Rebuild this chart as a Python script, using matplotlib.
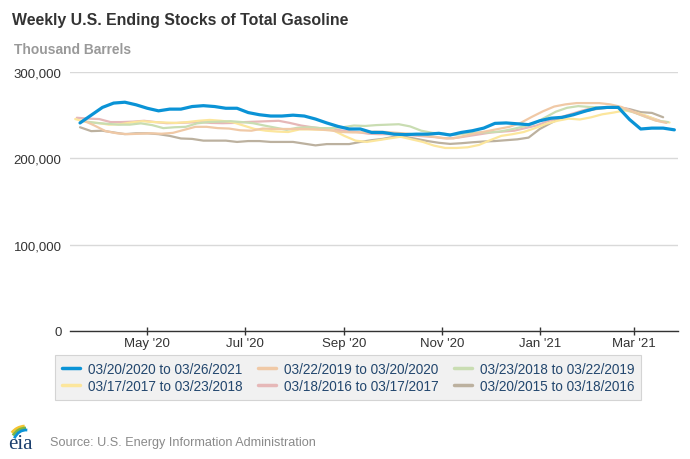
import matplotlib
matplotlib.use("Agg")
import matplotlib.pyplot as plt
import matplotlib.dates as mdates
from matplotlib.ticker import FuncFormatter
from matplotlib.patches import Arc
import datetime as dt

plt.rcParams['font.family'] = ['Liberation Sans', 'DejaVu Sans']

# ---------------- data (thousand barrels, weekly) ----------------
labels = ["03/20/2020 to 03/26/2021", "03/22/2019 to 03/20/2020", "03/23/2018 to 03/22/2019",
          "03/17/2017 to 03/23/2018", "03/18/2016 to 03/17/2017", "03/20/2015 to 03/18/2016"]
# first week of each series, shifted onto the 2020-21 axis
starts = ["2020-03-20", "2020-03-22", "2020-03-23", "2020-03-17", "2020-03-18", "2020-03-20"]

s2020 = [241, 250, 259, 264, 265, 262, 258, 255, 257, 257, 260, 261, 260, 258, 258, 253, 250.5,
         249, 249, 250, 249, 245.5, 241, 237, 234, 234, 230, 230, 228, 227.5, 228, 228, 229, 227,
         230, 232, 235, 240.5, 241, 240, 239, 243.5, 246.5, 247.5, 250.5, 254.5, 258, 259, 259,
         245, 234, 235, 235, 233]
s2019 = [244, 238, 231.5, 229, 228, 228.5, 229, 228.5, 229.5, 233, 236.5, 236.5, 235, 234.5,
         232.5, 232, 234.5, 234, 234, 234, 234, 233.5, 232.5, 230.5, 230, 230, 231, 230.5, 229.5,
         228.5, 227, 225.5, 223.5, 223, 226, 229, 231.5, 234, 236.5, 241, 248, 254.5, 260, 262.5,
         264, 264, 264, 262.5, 259.5, 254, 249, 244, 241]
s2018 = [243, 241, 240, 239, 239, 240.5, 238.5, 235, 236, 236.5, 240.5, 242, 242.5, 243, 242,
         240.7, 238, 235.5, 233, 235.5, 236, 235, 235, 236, 238, 237.5, 238.5, 239, 239.5, 237,
         232, 229.5, 228.5, 227, 229, 230, 230, 231, 233.5, 236.5, 240, 247, 254, 258.5, 260.5,
         259.5, 259, 259, 257.5, 253, 248, 243.5, 242]
s2017 = [245.5, 242, 241, 239, 239.5, 241.5, 243, 242, 241.5, 241, 242, 243.5, 244.5, 243.5, 242,
         238, 234, 232, 231, 230.5, 233.5, 233.5, 233, 232.5, 226, 220.5, 219, 221, 223, 225, 222,
         219, 214.7, 212, 212, 212.8, 215.5, 221, 226, 228, 230.5, 235, 240, 243.5, 246, 245,
         247.5, 251, 253, 255.5, 253, 249, 243.5, 241.5]
s2016 = [247, 246, 245.5, 242, 242, 242.5, 243.5, 242, 240.7, 241, 241.5, 242, 241, 240.7, 241,
         242, 242.5, 243, 243.5, 241, 238, 236, 234.5, 233.5, 231.5, 230.5, 228.5, 228, 228, 228,
         226.5, 225.5, 224.5, 223, 224, 226, 228, 230, 231, 232, 235, 238, 243, 247, 251, 255,
         258.5, 259, 259, 257.5, 252, 248, 243.5]
s2015 = [236, 231.5, 232, 230, 228, 229, 229, 228, 226, 223, 222.5, 220.5, 220.5, 220.5, 219,
         220, 220, 219, 219, 219, 217, 215, 216.5, 216.5, 216.5, 219, 221, 222.5, 225, 225, 222.5,
         220, 218, 216.7, 217.5, 218.6, 219.5, 220, 221, 222, 224, 234, 241, 247.6, 251, 254.5,
         257, 258.5, 259, 257, 253.5, 252.6, 247.6]
series = [s2020, s2019, s2018, s2017, s2016, s2015]

colors = ["#0a93d6", "#f0c9a6", "#c9ddb2", "#fce69c", "#e6b8b8", "#bcb19f"]
widths = [2.3, 1.6, 1.6, 1.6, 1.6, 1.6]

x_ticks = ["2020-05-01", "2020-07-01", "2020-09-01", "2020-11-01", "2021-01-01", "2021-03-01"]
y_ticks = [0, 100000, 200000, 300000]

# ---------------- figure ----------------
W, H = 690, 460
fig = plt.figure(figsize=(W / 100, H / 100), dpi=100)
ax = fig.add_axes([70 / W, 1 - 332 / H, 608 / W, (332 - 73) / H])

handles = {}
for k in [5, 4, 3, 2, 1, 0]:
    d0 = dt.datetime.strptime(starts[k], "%Y-%m-%d")
    xs = [d0 + dt.timedelta(days=7 * i) for i in range(len(series[k]))]
    ys = [v * 1000 for v in series[k]]
    ln, = ax.plot(xs, ys, color=colors[k], lw=widths[k], solid_joinstyle='round',
                  solid_capstyle='round', zorder=(10 - k) if k else 20)
    handles[k] = ln

x0 = dt.datetime(2020, 3, 20) - dt.timedelta(days=6.25)
x1 = x0 + dt.timedelta(days=608 / 1.602)
ax.set_xlim(x0, x1)
ax.set_ylim(0, 300000)

ax.set_yticks(y_ticks)
ax.yaxis.set_major_formatter(FuncFormatter(lambda v, p: f"{int(v):,}"))
ax.set_xticks([dt.datetime.strptime(t, "%Y-%m-%d") for t in x_ticks])
ax.xaxis.set_major_formatter(mdates.DateFormatter("%b '%y"))

for s in ["top", "right", "left"]:
    ax.spines[s].set_visible(False)
ax.spines["bottom"].set_color("#333333")
ax.spines["bottom"].set_linewidth(1.0)
ax.grid(axis="y", color="#d9d9d9", lw=1.0)
ax.set_axisbelow(True)
ax.tick_params(axis="y", length=0, pad=6, labelsize=9.5, labelcolor="#333333")
ax.tick_params(axis="x", direction="inout", length=6, width=1, color="#333333", pad=1,
               labelsize=9.5, labelcolor="#333333")

# title and unit
fig.text(12 / W, 1 - 21 / H, "Weekly U.S. Ending Stocks of Total Gasoline", fontsize=11.4,
         fontweight="bold", color="#333333", va="center", ha="left")
fig.text(14 / W, 1 - 50 / H, "Thousand Barrels", fontsize=9.9, fontweight="bold",
         color="#999999", va="center", ha="left")

# legend (row-wise order: fill columns with a permuted list)
perm = [0, 3, 1, 4, 2, 5]
leg = fig.legend([handles[k] for k in perm], [labels[k] for k in perm], ncol=3,
                 loc="upper left", bbox_to_anchor=(55 / W, 1 - 356 / H),
                 frameon=True, fontsize=9.8, handlelength=1.35, handletextpad=0.55,
                 columnspacing=1.15, labelspacing=0.22, borderpad=0.5, borderaxespad=0)
fr = leg.get_frame()
fr.set_facecolor("#eeeeee")
fr.set_edgecolor("#cccccc")
fr.set_linewidth(0.8)
fr.set_boxstyle("square", pad=0)
for t in leg.get_texts():
    t.set_color("#23476e")
for h in leg.legend_handles:
    h.set_linewidth(2.5)

# source + logo
fig.text(50 / W, 1 - 443 / H, "Source: U.S. Energy Information Administration", fontsize=9.1,
         color="#8a8a8a", va="center", ha="left")
fig.text(20 / W, 1 - 445 / H, "eia", fontsize=15, family="Liberation Serif", color="#1b3f6e",
         va="center", ha="center")
lax = fig.add_axes([4 / W, 1 - 440 / H, 32 / W, 18 / H])
lax.set_xlim(0, 32); lax.set_ylim(0, 18); lax.axis("off")
lax.add_patch(Arc((22, -2), 34, 30, theta1=95, theta2=150, color="#f4c430", lw=2))
lax.add_patch(Arc((22, -4), 30, 30, theta1=90, theta2=150, color="#7ab648", lw=2))
lax.add_patch(Arc((22, -6), 26, 30, theta1=85, theta2=150, color="#0a93d6", lw=2))

fig.savefig("out.png", dpi=100)
